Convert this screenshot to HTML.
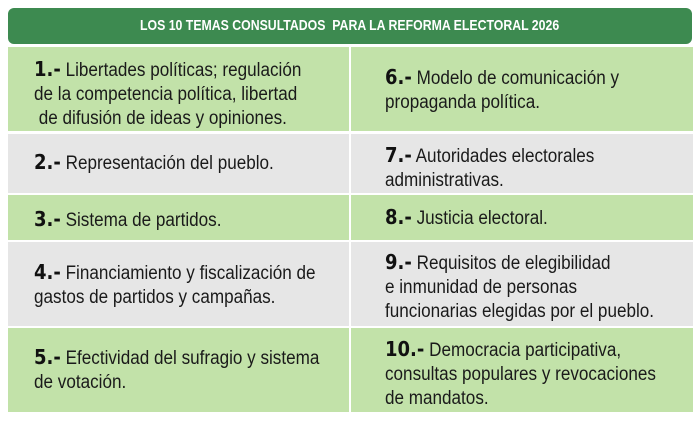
<!DOCTYPE html>
<html><head><meta charset="utf-8"><style>
body{margin:0;width:700px;height:425px;background:#fff;position:relative;overflow:hidden;font-family:"Liberation Sans",sans-serif;color:#1a1a1a}
.hdr{position:absolute;left:8px;top:8px;width:684px;height:36px;background:#3d8a50;border-radius:6px;color:#fff;font-weight:bold;font-size:15px;text-align:center;line-height:36px}
.hdr span{display:inline-block;transform:scaleX(0.82);transform-origin:center}
.r{position:absolute;left:8px;width:685px}
.g{background:#c2e2a9}.y{background:#e6e6e6}
.div{position:absolute;left:349px;top:47px;width:2px;height:365px;background:#fff}
.t{position:absolute;font-size:19px;line-height:24px;white-space:nowrap;transform:scaleX(0.9);transform-origin:left top}
.t b{font-family:"DejaVu Sans","Liberation Sans",sans-serif;font-weight:900;font-size:20px;color:#111}
</style></head><body>
<div class="hdr"><span>LOS 10 TEMAS CONSULTADOS &nbsp;PARA LA REFORMA ELECTORAL 2026</span></div>
<div class="r g" style="top:47px;height:84px"></div>
<div class="r y" style="top:134px;height:59px"></div>
<div class="r g" style="top:195px;height:45px"></div>
<div class="r y" style="top:242px;height:84px"></div>
<div class="r g" style="top:328px;height:84px"></div>
<div class="div"></div>

<div class="t" style="left:34px;top:57px"><b>1.-</b> Libertades políticas; regulación<br>de la competencia política, libertad<br>&nbsp;de difusión de ideas y opiniones.</div>
<div class="t" style="left:34px;top:150px"><b>2.-</b> Representación del pueblo.</div>
<div class="t" style="left:34px;top:207px"><b>3.-</b> Sistema de partidos.</div>
<div class="t" style="left:34px;top:260px"><b>4.-</b> Financiamiento y fiscalización de<br>gastos de partidos y campañas.</div>
<div class="t" style="left:34px;top:345px"><b>5.-</b> Efectividad del sufragio y sistema<br>de votación.</div>

<div class="t" style="left:385px;top:65px"><b>6.-</b> Modelo de comunicación y<br>propaganda política.</div>
<div class="t" style="left:385px;top:143px"><b>7.-</b> Autoridades electorales<br>administrativas.</div>
<div class="t" style="left:385px;top:205px"><b>8.-</b> Justicia electoral.</div>
<div class="t" style="left:385px;top:250px"><b>9.-</b> Requisitos de elegibilidad<br>e inmunidad de personas<br>funcionarias elegidas por el pueblo.</div>
<div class="t" style="left:385px;top:337px"><b>10.-</b> Democracia participativa,<br>consultas populares y revocaciones<br>de mandatos.</div>
</body></html>
